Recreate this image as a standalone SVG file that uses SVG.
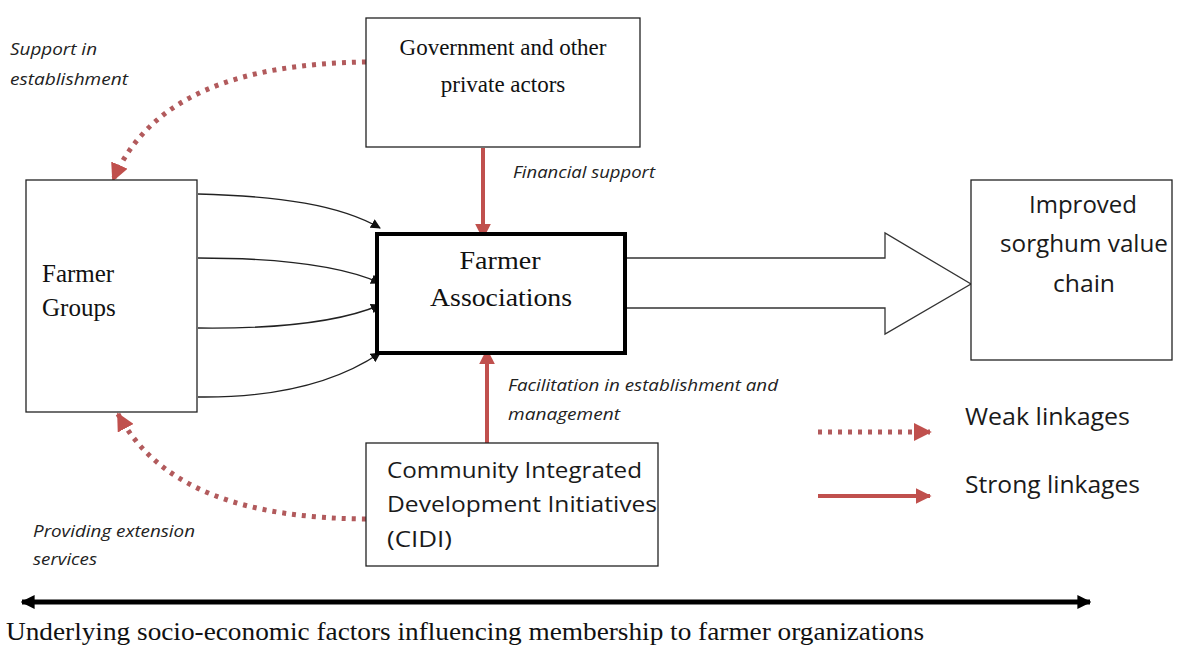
<svg xmlns="http://www.w3.org/2000/svg" width="1186" height="659" viewBox="0 0 1186 659">
<style>
.box{fill:#fff;stroke:#222;stroke-width:1.3}
.serif{font-family:"Liberation Serif","Times New Roman",serif;fill:#111}
.sans{font-family:"Open Sans","DejaVu Sans",sans-serif;fill:#1a1a1a}
.lab{font-family:"Open Sans","DejaVu Sans",sans-serif;font-style:italic;font-size:16px;fill:#222}
.thin{fill:none;stroke:#222;stroke-width:1.4}
.weak{fill:none;stroke:#b25a5c;stroke-width:5;stroke-dasharray:4 6}
.strong{fill:none;stroke:#c0504d;stroke-width:4}
</style>
<defs>
<marker id="blk" viewBox="0 0 10 10" refX="9" refY="5" markerWidth="10" markerHeight="10" markerUnits="userSpaceOnUse" orient="auto"><path d="M0,0 L10,5 L0,10 z" fill="#111"/></marker>
<marker id="red" viewBox="0 0 10 10" refX="9" refY="5" markerWidth="16" markerHeight="16" markerUnits="userSpaceOnUse" orient="auto"><path d="M0,0 L10,5 L0,10 z" fill="#c0504d"/></marker>
<marker id="redw" viewBox="0 0 10 10" refX="9" refY="5" markerWidth="18" markerHeight="18" markerUnits="userSpaceOnUse" orient="auto"><path d="M0,0 L10,5 L0,10 z" fill="#c0504d"/></marker>
<marker id="dbl" viewBox="0 0 10 10" refX="9" refY="5" markerWidth="14" markerHeight="14" markerUnits="userSpaceOnUse" orient="auto-start-reverse"><path d="M0,0 L10,5 L0,10 z" fill="#000"/></marker>
</defs>

<g id="connectors">
<path class="thin" d="M198,194 C280,196 340,205 380,228" marker-end="url(#blk)"/>
<path class="thin" d="M198,258 C280,258 340,265 380,283" marker-end="url(#blk)"/>
<path class="thin" d="M198,328 C280,329 340,322 380,305" marker-end="url(#blk)"/>
<path class="thin" d="M198,397 C280,398 340,380 380,353" marker-end="url(#blk)"/>
<path class="strong" d="M483,148 L483,238" marker-end="url(#red)"/>
<path class="strong" d="M487,443 L487,350" marker-end="url(#red)"/>
<path class="weak" d="M366,62 C240,64 150,95 113,180" marker-end="url(#redw)"/>
<path class="weak" d="M366,519 C250,518 160,492 118,414" marker-end="url(#redw)"/>
<path d="M626,258 L885,258 L885,233 L971,284 L885,334 L885,308 L626,308" fill="#fff" stroke="#333" stroke-width="1.3"/>
<path d="M22,602 L1090,602" stroke="#000" stroke-width="5" marker-start="url(#dbl)" marker-end="url(#dbl)"/>
</g>

<g id="government">
<rect class="box" x="366" y="18" width="274" height="129"/>
<text class="serif" font-size="23" text-anchor="middle"><tspan x="503" y="55">Government and other</tspan><tspan x="503" y="92">private actors</tspan></text>
</g>

<g id="farmer-groups">
<rect class="box" x="26" y="180" width="171" height="232"/>
<text class="serif" font-size="25"><tspan x="42" y="282">Farmer</tspan><tspan x="42" y="316">Groups</tspan></text>
</g>

<g id="farmer-associations">
<rect x="377" y="234" width="248" height="119" fill="#fff" stroke="#000" stroke-width="4"/>
<text class="serif" font-size="26" x="500" y="269" text-anchor="middle" textLength="81" lengthAdjust="spacingAndGlyphs">Farmer</text>
<text class="serif" font-size="26" x="501" y="306" text-anchor="middle" textLength="142" lengthAdjust="spacingAndGlyphs">Associations</text>
</g>

<g id="improved">
<rect class="box" x="971" y="180" width="201" height="180"/>
<text class="sans" font-size="23" text-anchor="middle" x="1083" y="213" textLength="108" lengthAdjust="spacingAndGlyphs">Improved</text>
<text class="sans" font-size="23" text-anchor="middle" x="1084" y="252" textLength="168" lengthAdjust="spacingAndGlyphs">sorghum value</text>
<text class="sans" font-size="23" text-anchor="middle" x="1084" y="292" textLength="62" lengthAdjust="spacingAndGlyphs">chain</text>
</g>

<g id="cidi">
<rect class="box" x="366" y="443" width="292" height="123"/>
<text class="sans" font-size="21" x="387" y="478" textLength="255" lengthAdjust="spacingAndGlyphs">Community Integrated</text>
<text class="sans" font-size="21" x="387" y="512" textLength="270" lengthAdjust="spacingAndGlyphs">Development Initiatives</text>
<text class="sans" font-size="21" x="387" y="547" textLength="65" lengthAdjust="spacingAndGlyphs">(CIDI)</text>
</g>

<g id="labels">
<text class="lab" x="10" y="55" textLength="87" lengthAdjust="spacingAndGlyphs">Support in</text>
<text class="lab" x="10" y="85" textLength="118" lengthAdjust="spacingAndGlyphs">establishment</text>
<text class="lab" x="513" y="178" textLength="142" lengthAdjust="spacingAndGlyphs">Financial support</text>
<text class="lab" x="508" y="391" textLength="270" lengthAdjust="spacingAndGlyphs">Facilitation in establishment and</text>
<text class="lab" x="508" y="420" textLength="112" lengthAdjust="spacingAndGlyphs">management</text>
<text class="lab" x="33" y="537" textLength="162" lengthAdjust="spacingAndGlyphs">Providing extension</text>
<text class="lab" x="33" y="565" textLength="64" lengthAdjust="spacingAndGlyphs">services</text>
</g>

<g id="legend">
<path class="weak" d="M818,432 L930,432" marker-end="url(#redw)"/>
<path class="strong" d="M818,496 L930,496" marker-end="url(#red)"/>
<text class="sans" font-size="24" x="965" y="425" textLength="165" lengthAdjust="spacingAndGlyphs">Weak linkages</text>
<text class="sans" font-size="24" x="965" y="493" textLength="175" lengthAdjust="spacingAndGlyphs">Strong linkages</text>
</g>

<g id="footer">
<text class="serif" font-size="25" x="6" y="640" textLength="918" lengthAdjust="spacingAndGlyphs">Underlying socio-economic factors influencing membership to farmer organizations</text>
</g>
</svg>
